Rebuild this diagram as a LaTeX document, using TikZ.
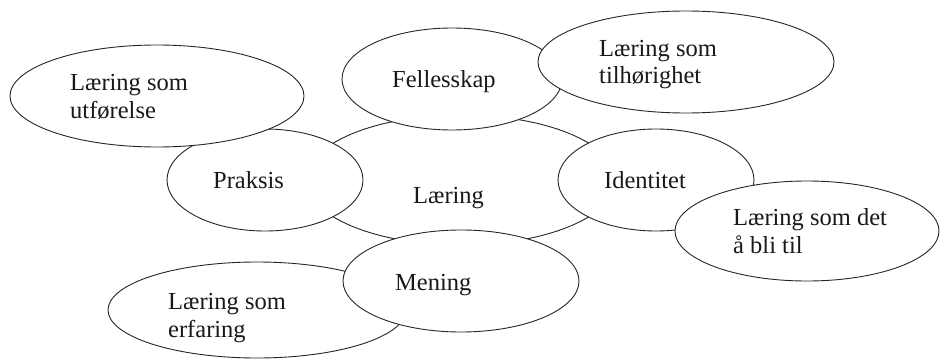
\documentclass[tikz,border=0pt]{standalone}
\usepackage{fontspec}
\setmainfont{Liberation Serif}
\usetikzlibrary{shapes.geometric}
\tikzset{
  oval/.style={draw=black!85, line width=0.9pt, fill=white, ellipse, inner sep=0pt},
  lbl/.style={anchor=base west, inner sep=0pt, align=left, font=\fontsize{24.5}{27.5}\selectfont, text=black!90}
}
\begin{document}
\begin{tikzpicture}[x=1pt,y=-1pt]
\useasboundingbox (0,0) rectangle (940,361);
% central
\node[oval, minimum width=310pt, minimum height=130pt] (laering) at (461,180) {};
\node[oval, minimum width=196pt, minimum height=102pt] (praksis) at (265,180) {};
\node[oval, minimum width=294pt, minimum height=102pt] (utforelse) at (157,96) {};
\node[oval, minimum width=220pt, minimum height=102pt] (felles) at (452,79) {};
\node[oval, minimum width=296pt, minimum height=102pt] (tilhor) at (686,62) {};
\node[oval, minimum width=196pt, minimum height=102pt] (ident) at (656,180) {};
\node[oval, minimum width=264pt, minimum height=100pt] (blitil) at (807,231) {};
\node[oval, minimum width=298pt, minimum height=96pt] (erfaring) at (257,310) {};
\node[oval, minimum width=236pt, minimum height=102pt] (mening) at (461,281) {};
% texts (base = baseline of last line)
\node[lbl] (t1) at (70,118) {Læring som\\utførelse};
\node[lbl] (t2) at (392,88) {Fellesskap};
\node[lbl] (t3) at (599,84) {Læring som\\tilhørighet};
\node[lbl] (t4) at (213,188) {Praksis};
\node[lbl] (t5) at (413,203) {Læring};
\node[lbl] (t6) at (604,188) {Identitet};
\node[lbl] (t7) at (733,253) {Læring som det\\å bli til};
\node[lbl] (t8) at (395,290) {Mening};
\node[lbl] (t9) at (168,337) {Læring som\\erfaring};
\end{tikzpicture}
\end{document}
